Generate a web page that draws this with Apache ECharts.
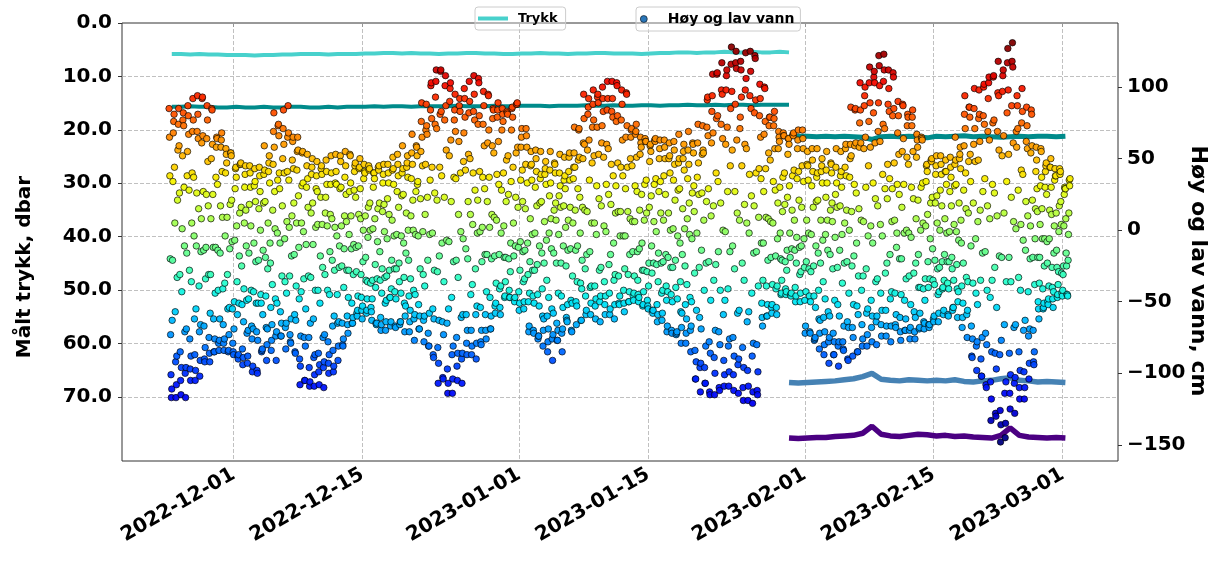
<!DOCTYPE html>
<html><head><meta charset="utf-8">
<script src="https://cdn.jsdelivr.net/npm/echarts@6/dist/echarts.min.js"></script>
<style>html,body{margin:0;padding:0;background:#fff}#c{width:1220px;height:561px}</style>
</head><body><div id="c"></div>
<script>
// ---------- DATA ----------
// X tick labels (dates)
const xTickLabels = ['2022-12-01','2022-12-15','2023-01-01','2023-01-15','2023-02-01','2023-02-15','2023-03-01'];
const leftTicks = [0,10,20,30,40,50,60,70];
const rightTicks = [-150,-100,-50,0,50,100];

// Trykk (dbar), daily samples. Set 1 starts 2022-11-24 07:00, set 2 starts 2023-01-30 07:00
const trykkTurkis = [5.8,5.8,5.9,5.8,5.9,5.9,6.0,6.0,6.0,6.1, 6.0,6.0,5.9,5.9,5.8,5.8,5.8,5.9,5.8,5.8, 5.8,5.7,5.7,5.6,5.6,5.7,5.6,5.7,5.7,5.8, 5.7,5.7,5.6,5.6,5.7,5.7,5.8,5.8,5.7,5.7, 5.6,5.7,5.7,5.8,5.7,5.7,5.6,5.6,5.7,5.7, 5.7,5.8,5.7,5.6,5.6,5.5,5.5,5.6,5.5,5.5, 5.4,5.5,5.5,5.4,5.5,5.5,5.4,5.5];
const trykkTeal1 = [15.7,15.7,15.6,15.7,15.7,15.8,15.8,15.7,15.8,15.8, 15.7,15.8,15.8,15.7,15.7,15.8,15.8,15.7,15.8,15.7, 15.7,15.7,15.6,15.7,15.6,15.6,15.7,15.6,15.6,15.6, 15.6,15.5,15.6,15.6,15.6,15.5,15.6,15.6,15.5,15.5, 15.5,15.6,15.5,15.5,15.5,15.4,15.5,15.5,15.4,15.5, 15.5,15.4,15.4,15.5,15.4,15.4,15.3,15.4,15.4,15.3, 15.4,15.3,15.3,15.4,15.3,15.3,15.3,15.3];
const trykkTeal2 = [21.3,21.2,21.2,21.3,21.2,21.3,21.2,21.3,21.4,21.8,21.3,21.2,21.3,21.2,21.3,21.5,21.2,21.3,21.2,21.1,21.3,21.2,21.3,21.4,21.3,21.2,21.3,21.2,21.2,21.3,21.2];
const trykkSteel = [67.3,67.4,67.3,67.2,67.1,67.0,66.8,66.6,66.2,65.6,66.7,66.9,67.0,66.8,66.9,67.0,66.9,67.0,66.8,67.1,67.2,67.0,66.9,66.6,66.4,66.9,67.0,67.2,67.1,67.2,67.3];
const trykkIndigo = [77.7,77.8,77.7,77.6,77.6,77.4,77.3,77.2,76.8,75.5,77.0,77.3,77.4,77.2,77.0,77.1,77.3,77.2,77.4,77.3,77.5,77.6,77.7,77.2,75.8,77.2,77.5,77.6,77.7,77.6,77.7];

// Høy og lav vann (cm): one row per day, hourly values from 00:00
const novRows = [ // 2022-11-24 .. 2022-11-30
[85,65,38,-20,-73,-101,-117,-111,-63,-21,34,68,76,81,44,5,-57,-92,-117,-108,-88,-33,21,56],
[74,85,59,26,-31,-85,-105,-115,-96,-43,1,52,77,82,73,30,-11,-71,-100,-117,-96,-69,-16,38],
[55,87,80,67,28,-28,-76,-97,-105,-88,-36,5,40,69,92,77,37,-4,-62,-87,-105,-98,-55,-11],
[26,69,94,81,64,15,-39,-71,-102,-91,-66,-15,8,61,92,93,66,27,-14,-67,-90,-92,-82,-34],
[-12,25,64,87,77,48,17,-31,-75,-86,-92,-58,-31,8,50,85,84,60,25,-12,-62,-85,-85,-76],
[-44,-12,37,58,65,64,32,-14,-42,-79,-84,-77,-62,-16,17,58,63,68,41,9,-41,-66,-79,-84],
[-76,-37,-4,40,57,53,47,9,-31,-55,-85,-84,-73,-54,-13,18,54,54,52,21,-8,-55,-79,-85]];
const decRows = [ // 2022-12-01 .. 2022-12-31
[-87,-69,-50,-7,29,43,44,37,3,-36,-59,-88,-90,-87,-51,-18,12,46,46,47,16,-25,-52,-83],
[-94,-89,-64,-41,5,30,39,45,14,-11,-49,-72,-93,-88,-70,-48,-16,18,45,40,30,3,-42,-67],
[-76,-99,-95,-69,-43,-9,31,43,34,20,-22,-51,-71,-98,-100,-77,-51,-21,15,44,38,27,0,-45],
[-51,-85,-84,-83,-59,-14,19,39,59,42,20,-19,-46,-68,-91,-80,-69,-27,5,41,47,52,33,-9],
[-23,-54,-84,-77,-66,-38,14,46,69,82,58,27,1,-48,-74,-91,-71,-51,-2,35,73,74,66,40],
[29,-9,-57,-74,-74,-65,-32,17,50,71,84,60,40,-6,-36,-68,-83,-65,-44,6,41,65,87,68],
[35,2,-32,-73,-78,-79,-62,-18,10,49,62,65,43,19,-17,-59,-85,-86,-63,-39,5,42,55,65],
[56,24,-12,-48,-90,-108,-95,-74,-43,5,31,54,55,33,-1,-34,-75,-105,-105,-81,-55,-10,30,45],
[53,36,16,-32,-75,-96,-109,-106,-65,-33,12,39,44,50,19,-10,-62,-89,-109,-101,-87,-42,2,29],
[38,48,27,4,-42,-86,-99,-108,-94,-51,-18,23,43,45,39,4,-26,-75,-96,-110,-92,-73,-31,12],
[23,49,41,32,3,-42,-78,-93,-100,-87,-45,-15,11,32,52,40,8,-21,-67,-84,-99,-95,-60,-28],
[2,33,53,41,32,-4,-45,-65,-91,-81,-64,-26,-11,29,52,48,30,3,-25,-65,-80,-81,-76,-40],
[-13,10,37,55,45,25,6,-28,-60,-66,-72,-47,-28,-3,27,53,52,33,10,-13,-51,-65,-65,-61],
[-31,-10,28,41,45,47,23,-12,-29,-58,-60,-56,-46,-11,11,43,44,50,29,8,-31,-47,-56,-62],
[-53,-22,0,36,46,41,40,10,-19,-35,-58,-56,-48,-36,-5,16,45,42,43,19,0,-37,-54,-57],
[-63,-48,-35,1,30,40,40,36,8,-24,-40,-65,-66,-65,-34,-8,15,44,42,45,19,-15,-35,-61],
[-70,-66,-44,-27,13,33,39,46,18,-1,-33,-51,-70,-64,-49,-32,-6,22,46,40,33,11,-28,-47],
[-47,-67,-64,-41,-21,7,42,51,43,32,-4,-27,-43,-67,-68,-48,-27,-3,27,53,46,38,16,-23],
[-36,-66,-64,-64,-44,-4,24,40,59,43,25,-9,-33,-51,-71,-60,-53,-16,12,44,47,52,37,0],
[-21,-46,-71,-64,-56,-34,10,36,54,67,46,21,0,-42,-62,-77,-59,-45,-3,27,59,58,52,32],
[34,-4,-52,-69,-69,-60,-27,22,55,76,89,65,45,-1,-31,-63,-78,-60,-39,11,46,70,88,73],
[67,23,-21,-72,-81,-81,-58,-3,35,84,101,103,78,44,-2,-55,-87,-89,-62,-28,26,74,93,104],
[112,71,21,-29,-82,-107,-93,-63,-18,44,81,111,112,83,38,-9,-64,-103,-104,-73,-36,23,77,101],
[108,87,56,-7,-65,-97,-114,-107,-55,-8,52,90,99,103,63,20,-47,-87,-114,-104,-81,-22,37,77],
[84,95,69,36,-21,-75,-95,-105,-86,-33,11,62,87,92,83,40,-1,-61,-90,-107,-86,-59,-6,48],
[68,99,92,79,42,-13,-59,-79,-87,-70,-20,20,53,82,104,90,50,11,-45,-70,-87,-81,-38,4],
[40,83,108,95,77,28,-27,-59,-90,-79,-53,-2,21,74,106,103,80,41,-1,-54,-78,-80,-70,-22],
[2,37,74,97,87,59,29,-17,-59,-70,-76,-43,-17,20,61,95,94,70,37,2,-47,-69,-69,-60],
[-20,11,59,78,85,84,54,9,-18,-53,-58,-51,-37,7,39,79,84,89,62,32,-17,-41,-54,-59],
[-39,-2,28,70,85,81,76,40,3,-19,-47,-46,-36,-19,20,49,83,82,81,52,25,-20,-42,-47],
[-47,-29,-9,34,70,85,86,79,44,5,-18,-48,-50,-47,-11,23,54,88,88,89,58,16,-12,-43]];
const janRows = [ // 2023-01-01 .. 2023-01-31
[-56,-51,-28,-8,35,58,65,71,42,20,-15,-36,-55,-50,-34,-14,15,46,71,66,58,33,-9,-31],
[-50,-71,-67,-44,-22,8,45,55,46,35,-3,-28,-46,-70,-72,-51,-28,-2,30,56,50,41,17,-24],
[-45,-76,-74,-74,-53,-11,19,36,55,39,20,-16,-41,-60,-81,-70,-62,-23,6,39,43,48,32,-7],
[-35,-60,-85,-78,-69,-47,-2,24,42,55,33,8,-13,-55,-76,-91,-73,-58,-16,14,47,46,40,19],
[7,-23,-65,-77,-77,-70,-44,-3,24,40,53,31,16,-23,-46,-72,-85,-69,-54,-11,17,35,51,38],
[29,2,-25,-61,-63,-64,-52,-14,7,41,51,54,35,16,-13,-49,-70,-71,-51,-32,5,36,44,54],
[72,44,14,-14,-50,-66,-53,-36,-11,29,49,70,71,51,23,-2,-37,-63,-63,-41,-21,16,50,61],
[95,78,60,14,-27,-46,-59,-56,-17,13,56,81,86,92,63,35,-15,-40,-59,-51,-39,5,47,72],
[88,98,77,52,5,-39,-53,-62,-48,-3,31,72,93,95,89,53,22,-28,-50,-64,-46,-26,17,61],
[73,100,92,83,51,3,-36,-52,-59,-46,-1,32,60,84,104,92,57,25,-24,-44,-59,-55,-17,18],
[46,83,104,92,79,38,-9,-35,-62,-52,-31,12,31,76,103,101,80,47,13,-32,-51,-52,-46,-4],
[13,44,77,98,88,63,38,-4,-42,-51,-57,-27,-4,29,65,96,95,73,44,13,-31,-50,-50,-43],
[-17,8,50,65,70,71,45,6,-15,-46,-49,-44,-32,6,31,67,69,74,51,27,-15,-35,-45,-50],
[-47,-13,14,53,65,61,58,25,-9,-28,-53,-52,-43,-28,7,32,64,62,62,35,12,-29,-49,-53],
[-55,-39,-23,16,48,59,60,55,24,-11,-30,-56,-58,-56,-23,6,32,63,62,64,36,-1,-24,-52],
[-64,-59,-36,-16,27,50,57,63,34,12,-23,-44,-63,-58,-42,-22,7,38,63,58,50,25,-17,-39],
[-49,-71,-67,-43,-19,12,50,61,52,40,0,-26,-45,-70,-72,-50,-26,1,35,62,56,46,21,-21],
[-40,-73,-72,-71,-48,-4,28,47,67,50,29,-9,-36,-57,-79,-68,-58,-17,15,50,55,60,42,1],
[-25,-52,-79,-72,-62,-38,8,36,56,69,46,19,-3,-47,-70,-85,-67,-50,-6,26,61,60,54,31],
[13,-30,-84,-104,-104,-92,-56,-2,37,61,74,47,25,-26,-61,-96,-113,-93,-69,-14,26,53,73,56],
[54,7,-42,-96,-107,-107,-81,-23,20,72,91,93,66,29,-22,-78,-113,-115,-86,-49,10,61,83,94],
[109,68,17,-35,-89,-115,-100,-70,-24,40,78,109,110,80,34,-15,-71,-110,-112,-80,-42,19,74,98],
[117,95,64,0,-59,-91,-109,-101,-49,-1,60,98,108,112,72,27,-41,-81,-109,-99,-76,-15,45,85],
[116,128,97,56,-11,-75,-101,-112,-88,-27,27,88,117,125,113,63,12,-58,-94,-114,-90,-56,7,71],
[79,118,112,93,45,-23,-82,-110,-119,-96,-35,18,60,98,124,106,57,5,-64,-98,-119,-109,-57,-2],
[39,94,125,111,85,24,-44,-88,-121,-113,-79,-16,17,82,122,120,91,40,-15,-80,-112,-115,-99,-39],
[9,43,80,102,92,65,36,-9,-51,-61,-67,-35,-9,27,67,100,99,76,43,9,-39,-60,-60,-52],
[-21,8,54,73,79,79,49,6,-19,-54,-58,-52,-38,5,34,73,78,83,57,28,-18,-41,-54,-59],
[-39,-6,19,57,69,65,62,30,-2,-20,-45,-44,-35,-21,13,37,68,66,66,40,18,-22,-41,-45],
[-43,-28,-14,23,53,64,64,60,31,-2,-19,-45,-46,-44,-13,14,38,67,66,68,42,7,-14,-40],
[-50,-46,-23,-5,36,57,63,70,41,21,-12,-31,-50,-44,-29,-11,16,45,70,64,57,34,-6,-26]];
const febRows = [ // 2023-02-01 .. 2023-02-28
[-49,-72,-67,-43,-22,7,46,55,45,35,-2,-27,-46,-71,-72,-50,-29,-3,31,57,49,41,16,-25],
[-46,-77,-76,-75,-54,-11,20,37,57,40,21,-16,-42,-62,-83,-72,-63,-23,7,41,45,50,33,-7],
[-36,-61,-87,-80,-71,-48,-3,23,42,55,33,7,-14,-57,-78,-93,-75,-60,-17,14,47,46,40,19],
[6,-27,-72,-87,-87,-78,-49,-5,25,44,57,33,16,-26,-52,-81,-95,-78,-60,-14,17,38,55,41],
[30,-3,-37,-78,-83,-84,-67,-23,5,44,57,60,38,14,-22,-64,-90,-91,-68,-44,0,37,50,60],
[86,52,13,-25,-68,-88,-75,-52,-18,32,59,84,85,61,26,-9,-53,-85,-85,-59,-32,15,58,75],
[103,84,61,7,-42,-66,-81,-76,-32,6,57,87,94,100,65,30,-27,-58,-81,-73,-55,-4,45,76],
[103,114,89,58,3,-49,-68,-78,-60,-9,33,82,107,111,103,61,22,-36,-64,-80,-60,-34,17,69],
[89,122,115,101,62,4,-44,-66,-74,-56,-4,39,74,104,123,112,71,29,-30,-56,-74,-67,-23,22],
[46,88,112,99,83,36,-17,-48,-78,-67,-43,6,29,80,110,107,85,47,7,-44,-66,-68,-59,-12],
[-2,32,68,90,80,53,25,-20,-61,-71,-77,-45,-20,16,55,88,87,64,32,-2,-49,-70,-70,-62],
[-34,0,51,73,81,79,46,-2,-32,-70,-76,-68,-52,-5,30,73,79,84,55,22,-30,-57,-71,-76],
[-61,-23,8,51,67,63,58,21,-17,-40,-69,-68,-58,-40,0,30,65,64,63,33,5,-41,-64,-69],
[-65,-49,-34,3,34,45,46,41,11,-22,-40,-66,-68,-66,-34,-6,19,49,48,50,23,-13,-35,-62],
[-64,-60,-38,-21,19,39,45,52,24,5,-27,-45,-64,-58,-43,-26,0,28,52,46,39,17,-22,-41],
[-40,-59,-56,-35,-17,8,41,49,41,32,-2,-22,-37,-59,-60,-41,-22,-1,27,51,44,37,17,-19],
[-27,-56,-54,-54,-35,4,31,46,65,49,32,-1,-24,-41,-61,-50,-43,-7,19,50,53,58,43,7],
[-9,-39,-68,-61,-51,-23,28,59,81,94,71,40,15,-33,-59,-75,-56,-36,12,48,86,86,79,53],
[34,-11,-67,-88,-89,-76,-37,19,60,85,99,71,48,-6,-44,-81,-98,-78,-52,6,49,78,98,81],
[62,14,-35,-90,-102,-102,-75,-16,27,80,100,102,74,36,-15,-72,-108,-110,-80,-42,17,69,92,103],
[107,63,8,-47,-106,-133,-118,-85,-35,32,75,107,108,77,26,-26,-86,-128,-130,-97,-54,10,69,96],
[118,94,56,-18,-87,-126,-148,-136,-77,-19,52,97,108,112,66,12,-66,-114,-145,-135,-106,-36,34,82],
[117,127,98,53,-19,-86,-114,-125,-101,-36,23,87,118,131,114,61,6,-68,-107,-128,-103,-66,1,69],
[58,94,87,71,28,-33,-85,-110,-118,-98,-42,4,42,75,99,83,39,-7,-70,-99,-118,-110,-63,-14],
[20,62,86,73,57,10,-43,-74,-104,-93,-69,-20,3,54,84,81,59,21,-19,-70,-92,-94,-85,-38],
[-6,15,41,58,49,29,13,-19,-50,-55,-62,-37,-19,4,31,57,55,37,15,-6,-41,-55,-54,-51],
[-25,-6,30,41,45,47,25,-8,-23,-50,-52,-48,-39,-6,14,44,44,50,30,11,-26,-40,-48,-54],
[-43,-16,3,35,43,38,38,12,-14,-26,-47,-45,-38,-29,-1,17,43,39,41,20,4,-30,-44,-46]];
const marRows = [ // 2023-03-01
[-42,-31,-25,3,25,30,29,29,8,-16,-25,-45,-45,-46,-21,-3,12,35,31,36]];

// ---------- BUILD ----------
const DAY = 86400000;
function parseDay(s){const p=s.split('-').map(Number);return Date.UTC(p[0],p[1]-1,p[2]);}
const xTickVals = xTickLabels.map(parseDay);
function fmtDate(v){const d=new Date(v);const m=d.getUTCMonth()+1, dd=d.getUTCDate();
  return d.getUTCFullYear()+'-'+(m<10?'0':'')+m+'-'+(dd<10?'0':'')+dd;}

const blocks = [
  {y:2022,m:10,d0:24,rows:novRows},
  {y:2022,m:11,d0:1,rows:decRows},
  {y:2023,m:0,d0:1,rows:janRows},
  {y:2023,m:1,d0:1,rows:febRows},
  {y:2023,m:2,d0:1,rows:marRows}];
const scatterData = [];
blocks.forEach(b=>b.rows.forEach((row,i)=>row.forEach((v,h)=>scatterData.push([Date.UTC(b.y,b.m,b.d0+i,h),v]))));

const set1Start = Date.UTC(2022,10,24,7), set2Start = Date.UTC(2023,0,30,7);
const toSeries=(start,arr)=>arr.map((v,i)=>[start+i*DAY,v]);

const jet = ['#000080','#0000B9','#0000F3','#001AFF','#004DFF','#0080FF','#00B3FF','#00E6F7','#29FFCE','#52FFA4','#7BFF7B','#A4FF52','#CEFF29','#F7F500','#FFC600','#FF9700','#FF6800','#FF3900','#F30900','#B90000','#800000'];

const FONT = 'DejaVu Sans';
const gridLineStyle = {type:[4,2], color:'#b0b0b0', width:0.8};
const markData = leftTicks.filter(v=>v>0).map(v=>({yAxis:v})).concat(xTickVals.map(t=>({xAxis:t})));

const lineS = (name,data,color,w)=>({name,type:'line',yAxisIndex:0,data,showSymbol:false,symbol:'none',
  lineStyle:{color,width:w},itemStyle:{color},z:2,silent:true});

const series = [
  Object.assign(lineS('Trykk',toSeries(set1Start,trykkTurkis),'#48D1CC',4),{
    markLine:{silent:true,symbol:'none',z:1,label:{show:false},lineStyle:gridLineStyle,data:markData,animation:false}}),
  lineS('Trykk 2',toSeries(set1Start,trykkTeal1),'#008B8B',4),
  lineS('Trykk 3',toSeries(set2Start,trykkTeal2),'#008B8B',5),
  lineS('Trykk 4',toSeries(set2Start,trykkSteel),'#4682B4',5.5),
  lineS('Trykk 5',toSeries(set2Start,trykkIndigo),'#4B0082',5.5),
  {name:'Høy og lav vann',type:'scatter',yAxisIndex:1,data:scatterData,symbol:'circle',symbolSize:6.5,
   itemStyle:{borderColor:'#000',borderWidth:0.7,opacity:0.95},z:3,silent:true}
];

const axisLabelBase = {fontFamily:FONT,fontWeight:'bold',fontSize:20,color:'#000'};
const option = {
  animation:false,
  backgroundColor:'#fff',
  textStyle:{fontFamily:FONT},
  grid:{left:122,right:102,top:23,bottom:100,show:true,borderColor:'#333',borderWidth:1,containLabel:false,outerBoundsMode:'none'},
  xAxis:{type:'value',min:Date.UTC(2022,10,18,21,20),max:Date.UTC(2023,2,7,0,0),
    axisLine:{show:false},splitLine:{show:false},
    axisTick:{show:true,customValues:xTickVals,length:4,lineStyle:{color:'#333'}},
    axisLabel:Object.assign({},axisLabelBase,{customValues:xTickVals,rotate:30,margin:12,formatter:v=>fmtDate(v),hideOverlap:false,showMinLabel:true,showMaxLabel:true})},
  yAxis:[
    {type:'value',inverse:true,min:0,max:82,position:'left',axisLine:{show:false},splitLine:{show:false},
     axisTick:{show:true,customValues:leftTicks,length:4,lineStyle:{color:'#333'}},
     axisLabel:Object.assign({},axisLabelBase,{customValues:leftTicks,margin:10,formatter:v=>Number(v).toFixed(1)})},
    {type:'value',min:-161.3,max:144.8,position:'right',axisLine:{show:false},splitLine:{show:false},
     axisTick:{show:true,customValues:rightTicks,length:4,lineStyle:{color:'#333'}},
     axisLabel:Object.assign({},axisLabelBase,{customValues:rightTicks,margin:9,formatter:v=>v<0?'\u2212'+Math.abs(v):String(v)})}
  ],
  visualMap:{type:'continuous',show:false,seriesIndex:5,dimension:1,min:-148,max:131,inRange:{color:jet}},
  legend:[
    {left:475,top:7,padding:[5,8,5,3],itemWidth:30,itemHeight:4,borderColor:'#cccccc',borderWidth:1,borderRadius:3,
     backgroundColor:'rgba(255,255,255,0.3)',selectedMode:false,
     data:[{name:'Trykk',icon:'rect',itemStyle:{color:'#48D1CC'}}],
     textStyle:{fontFamily:FONT,fontSize:13,fontWeight:'bold',color:'#000',padding:[0,0,0,5]}},
    {left:636,top:7,padding:[5,6,5,4],itemWidth:30,itemHeight:7,borderColor:'#cccccc',borderWidth:1,borderRadius:3,
     backgroundColor:'rgba(255,255,255,0.3)',selectedMode:false,
     data:[{name:'Høy og lav vann',icon:'circle',itemStyle:{color:'#1f6fb4',borderColor:'#000',borderWidth:0.6}}],
     textStyle:{fontFamily:FONT,fontSize:14,fontWeight:'bold',color:'#000',padding:[0,0,0,4]}}
  ],
  graphic:[
    {type:'text',x:25,y:267,rotation:Math.PI/2,silent:true,
     style:{text:'Målt trykk, dbar',font:'bold 20px "DejaVu Sans"',fill:'#000',textAlign:'center',textVerticalAlign:'middle'}},
    {type:'text',x:1198,y:271,rotation:-Math.PI/2,silent:true,
     style:{text:'Høy og lav vann, cm',font:'bold 22px "DejaVu Sans"',fill:'#000',textAlign:'center',textVerticalAlign:'middle'}}
  ],
  series
};
const chart = echarts.init(document.getElementById('c'),null,{renderer:'canvas'});
chart.setOption(option);
</script></body></html>
